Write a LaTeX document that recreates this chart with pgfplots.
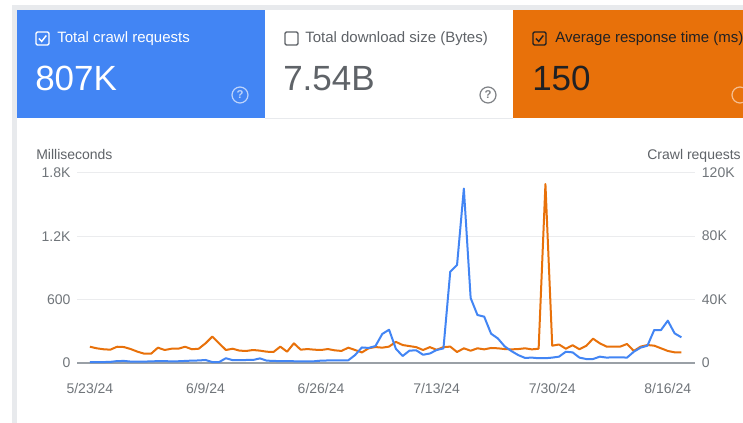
\documentclass[border=0pt]{standalone}
\usepackage{pgfplots}
\usepackage{pgfplotstable}
\pgfplotsset{compat=1.18}
\usepackage{fontspec}
\setmainfont{Liberation Sans}
\definecolor{gblue}{HTML}{4285F4}
\definecolor{gorange}{HTML}{E8710A}
\definecolor{gframe}{HTML}{E8EAED}
\definecolor{ggrid}{HTML}{EBECEE}
\definecolor{gbase}{HTML}{9AA0A6}
\definecolor{gtick}{HTML}{70757A}
\definecolor{gtext}{HTML}{5F6368}
\definecolor{gdark}{HTML}{202124}

\pgfplotstableread{
d ms req
0 154 0.5
1 139 0.6
2 130 0.6
3 126 0.7
4 154 1.2
5 151 1.3
6 132 0.9
7 107 0.8
8 88 0.9
9 88 1.0
10 145 1.2
11 123 1.2
12 135 1.0
13 135 1.1
14 154 1.3
15 130 1.5
16 135 1.6
17 186 1.9
18 250 0.6
19 186 0.6
20 123 3.0
21 135 1.8
22 117 1.8
23 114 1.9
24 123 1.9
25 117 2.9
26 107 1.5
27 104 1.3
28 155 1.2
29 107 1.2
30 186 1.1
31 126 1.0
32 132 1.0
33 126 1.1
34 123 1.5
35 132 1.6
36 120 1.6
37 114 1.7
38 145 1.7
39 123 5.0
40 100 9.8
41 139 9.5
42 151 10.7
43 145 18.3
44 155 21.0
45 200 9.0
46 170 4.4
47 160 7.8
48 150 8.0
49 123 5.2
50 150 6.0
51 125 8.2
52 150 9.2
53 155 57.6
54 104 61.8
55 139 110
56 116 41
57 139 30.3
58 129 29.2
59 142 18.5
60 139 15.5
61 132 10.5
62 129 7.5
63 132 5.0
64 139 3.2
65 129 3.4
66 135 3.0
67 1693 3.0
68 164 3.4
69 175 4.0
70 135 7.1
71 168 6.7
72 130 3.4
73 162 2.5
74 230 2.5
75 186 4.0
76 155 3.4
77 155 3.6
78 155 3.6
79 180 3.4
80 114 7.1
81 155 9.7
82 170 10.9
83 164 20.8
84 139 20.8
85 114 26.7
86 101 18.7
87 101 16.2
}\datatable

\pgfplotsset{
  gscommon/.style={
    at={(57.75pt,44.25pt)}, anchor=origin,
    scale only axis, width=463.5pt, height=142.7pt,
    xmin=-1.9, xmax=89,
    axis line style={draw=none},
    major tick length=0pt, tick align=inside,
    tick label style={text=gtick, font=\fontsize{10.5}{12}\selectfont, inner sep=0pt},
    clip=false,
  }
}

\begin{document}
\begin{tikzpicture}
\useasboundingbox (0,0) rectangle (557.25pt,316.5pt);
\clip (0,0) rectangle (557.25pt,316.5pt);
\begin{scope}[x=0.75pt,y=0.75pt]
\fill[white] (0,0) rectangle (743,422);
% frame
\fill[gframe] (12,-10) rectangle (760,417);
\fill[white] (17,-10) rectangle (760,412);
% cards
\fill[gblue] (17,304) rectangle (265,412);
\fill[white] (265,304) rectangle (513,412);
\draw[gframe, line width=1.2pt] (265,303.5) -- (513,303.5);
\fill[gorange] (513,304) rectangle (760,412);

% blue card
\draw[white, line width=1.1pt, rounded corners=1pt] (36,377) rectangle (49,390);
\draw[white, line width=1.1pt] (39,383.5) -- (41.7,380.6) -- (46.3,386.5);
\node[anchor=base west, inner sep=0pt, text=white, font=\fontsize{11.25}{13}\selectfont] at (57,379) {Total crawl requests};
\node[anchor=base west, inner sep=0pt, text=white, font=\fontsize{26.25}{30}\selectfont] at (35,331) {807K};
\draw[white!65!gblue, line width=0.9pt] (240,327) circle (8);
\node[text=white!65!gblue, inner sep=0pt, font=\fontsize{8.5}{10}\selectfont\bfseries] at (240,327) {?};

% white card
\draw[gtext, line width=1.1pt, rounded corners=1pt] (285,377) rectangle (298,390);
\node[anchor=base west, inner sep=0pt, text=gtext, font=\fontsize{11.25}{13}\selectfont] at (305,379) {Total download size (Bytes)};
\node[anchor=base west, inner sep=0pt, text=gtext, font=\fontsize{26.25}{30}\selectfont] at (283,331) {7.54B};
\draw[gtext!80, line width=0.9pt] (488,327) circle (8);
\node[text=gtext!80, inner sep=0pt, font=\fontsize{8.5}{10}\selectfont\bfseries] at (488,327) {?};

% orange card
\draw[gdark, line width=1.1pt, rounded corners=1pt] (533,377) rectangle (546,390);
\draw[gdark, line width=1.1pt] (536,383.5) -- (538.7,380.6) -- (543.3,386.5);
\node[anchor=base west, inner sep=0pt, text=gdark, font=\fontsize{11.25}{13}\selectfont] at (555,379) {Average response time (ms)};
\node[anchor=base west, inner sep=0pt, text=gdark, font=\fontsize{26.25}{30}\selectfont] at (532,331) {150};
\draw[white!55!gorange, line width=0.9pt] (740,327) circle (8);

% axis titles
\node[anchor=base west, inner sep=0pt, text=gtext, font=\fontsize{10.5}{12}\selectfont] at (36,262.5) {Milliseconds};
\node[anchor=base east, inner sep=0pt, text=gtext, font=\fontsize{10.5}{12}\selectfont] at (741,262.5) {Crawl requests};
\end{scope}

\begin{axis}[
  gscommon, anchor=south west,
  ymin=0, ymax=1800,
  axis x line*=bottom, axis y line*=left,
  xtick={0,17,34,51,68,85},
  xticklabels={5/23/24,6/9/24,6/26/24,7/13/24,7/30/24,8/16/24},
  ytick={600,1200,1800},
  yticklabels={600,1.2K,1.8K},
  extra y ticks={0}, extra y tick labels={0},
  extra y tick style={grid style={gbase, line width=0.8pt}},
  ymajorgrids, grid style={ggrid, line width=0.75pt},
  xticklabel style={anchor=north, yshift=-15pt},
  yticklabel style={anchor=east, xshift=-4.7pt},
]
\addplot[gorange, line width=1.5pt, line join=round] table[x=d, y=ms] {\datatable};
\end{axis}

\begin{axis}[
  gscommon, anchor=south west,
  ymin=0, ymax=120,
  axis x line*=bottom, axis y line*=right,
  xtick=\empty,
  ytick={0,40,80,120},
  yticklabels={0,40K,80K,120K},
  yticklabel style={anchor=west, xshift=5pt},
]
\addplot[gblue, line width=1.5pt, line join=round] table[x=d, y=req] {\datatable};
\end{axis}
\end{tikzpicture}
\end{document}
